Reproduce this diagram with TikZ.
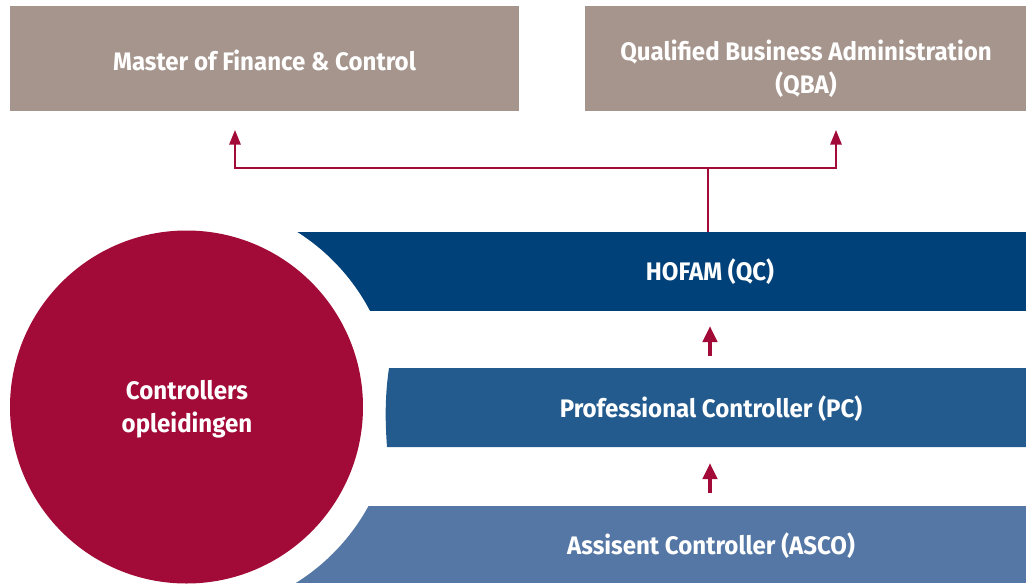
\documentclass[tikz,border=0pt]{standalone}
\usepackage{fontspec}
\setmainfont{Fira Sans}[FakeStretch=0.95]
\usetikzlibrary{arrows.meta}
\definecolor{taupe}{RGB}{165,149,141}
\definecolor{bandA}{RGB}{0,65,122}
\definecolor{bandB}{RGB}{35,91,142}
\definecolor{bandC}{RGB}{85,119,165}
\definecolor{wine}{RGB}{162,11,55}
\begin{document}
\begin{tikzpicture}[x=0.75pt,y=-0.75pt,
  lbl/.style={text=white,font=\fontsize{19}{24.5}\selectfont\bfseries,align=center,inner sep=0pt},
  topbox/.style={fill=taupe,minimum height=78.75pt,inner sep=0pt},
  conn/.style={draw=wine,line width=1.5pt},
  bigarrow/.style={draw=wine,line width=1.5pt,-{Triangle[width=8.5pt,length=11pt]}},
  smallarrow/.style={draw=wine,line width=3pt,-{Triangle[width=10.5pt,length=12pt]}}]
\useasboundingbox (0,0) rectangle (1026,583);
% top boxes
\node[topbox,minimum width=381.75pt] (mfc) at (264.5,58.5) {};
\node[topbox,minimum width=330.75pt] (qba) at (805.5,58.5) {};
\node[lbl] (mfclbl) at (264.5,60) {Master of Finance \& Control};
\node[lbl] (qbalbl) at (806,69) {Qualified Business Administration\\(QBA)};
% bands
\fill[bandA] (200,232) rectangle (1026,311);
\fill[bandC] (200,506) rectangle (1026,583);
\fill[white] (186.5,407) circle[radius=155.25pt];
\fill[bandB] (389,368) .. controls (385,395) and (385,420) .. (387,447) -- (1026,447) -- (1026,368) -- cycle;
\node[circle,fill=wine,minimum size=264.75pt,inner sep=0pt] (circ) at (186.5,407) {};
\node[lbl] (circlbl) at (187,409) {Controllers\\opleidingen};
\node[lbl] (hofam) at (710,272) {HOFAM (QC)};
\node[lbl] (pc) at (711,409) {Professional Controller (PC)};
\node[lbl] (asco) at (711,546) {Assisent Controller (ASCO)};
% connectors
\coordinate (hofamtop) at (708,232);
\coordinate (split) at (708,168);
\coordinate (mfcend) at (235,130);
\coordinate (qbaend) at (836,130);
\draw[conn] (hofamtop) -- (split);
\draw[bigarrow] (split) -| (mfcend);
\draw[bigarrow] (split) -| (qbaend);
\coordinate (a1s) at (710,356);
\coordinate (a1e) at (710,326);
\coordinate (a2s) at (710,493);
\coordinate (a2e) at (710,463);
\draw[smallarrow] (a1s) -- (a1e);
\draw[smallarrow] (a2s) -- (a2e);
\end{tikzpicture}
\end{document}
